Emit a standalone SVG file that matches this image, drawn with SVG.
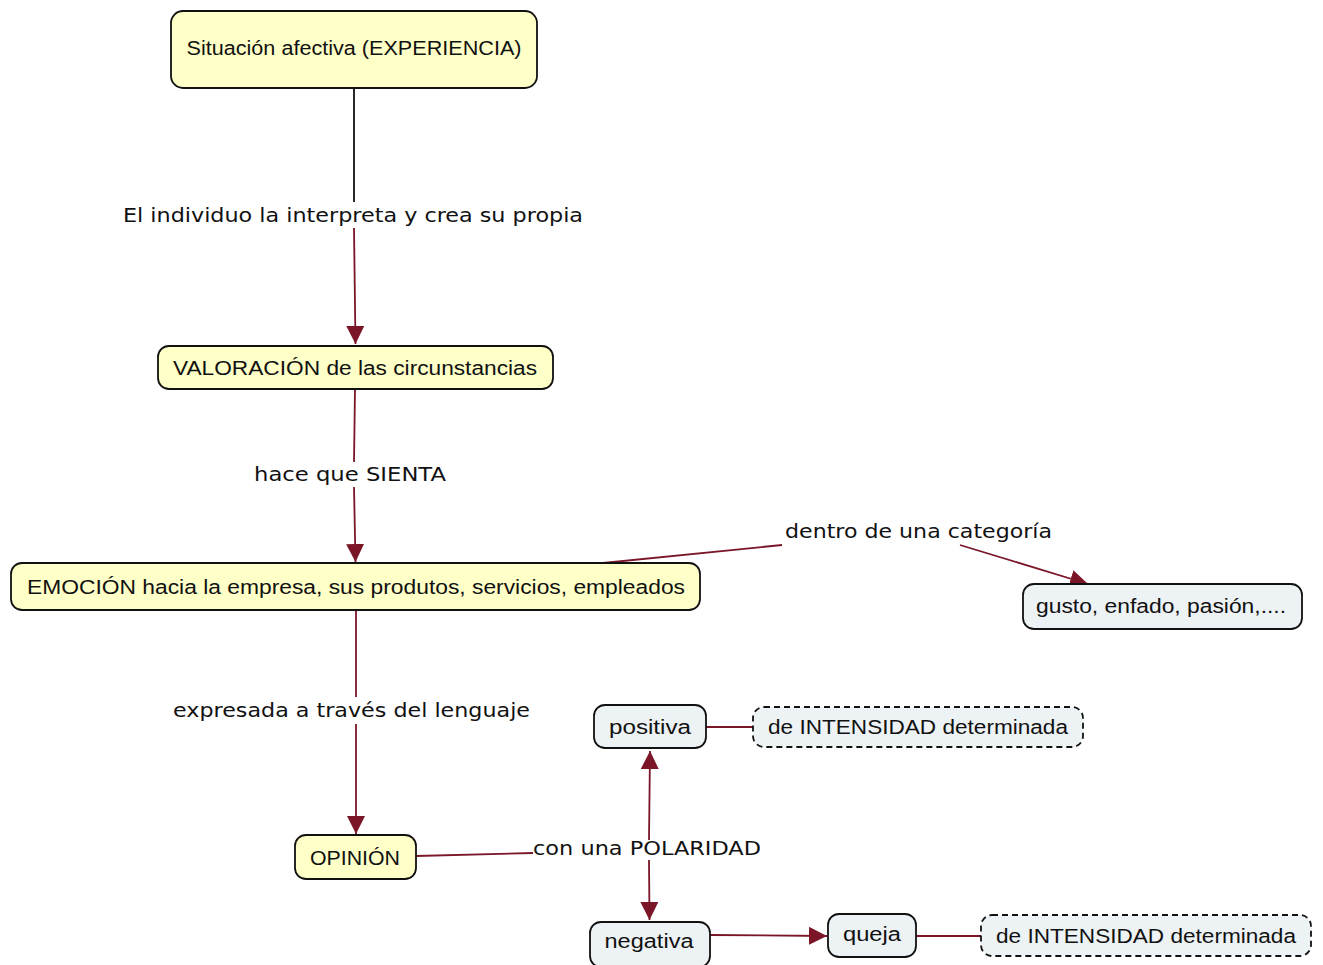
<svg xmlns="http://www.w3.org/2000/svg" width="1323" height="965" viewBox="0 0 1323 965">
<defs>
<marker id="arr" viewBox="0 0 10 10" refX="10" refY="5" markerWidth="18" markerHeight="18" markerUnits="userSpaceOnUse" orient="auto">
<path d="M0,0 L10,5 L0,10 z" fill="#7a1628"/>
</marker>
<style>
.ny{fill:#ffffc8;stroke:#111;stroke-width:1.8}
.nb{fill:#edf2f4;stroke:#111;stroke-width:1.8}
.nd{fill:#edf2f4;stroke:#111;stroke-width:1.8;stroke-dasharray:6 4}
.nt{font-family:"Liberation Sans",Arial,sans-serif;font-size:20px;fill:#111;text-anchor:middle;dominant-baseline:central}
.lt{font-family:"DejaVu Sans",Verdana,sans-serif;font-size:19px;fill:#111;dominant-baseline:central}
.c{stroke:#7a1628;stroke-width:1.8;fill:none}
.ca{stroke:#7a1628;stroke-width:1.8;fill:none;marker-end:url(#arr)}
</style>
</defs>
<rect width="1323" height="965" fill="#fff"/>
<g id="connectors">
<line x1="354" y1="88" x2="354" y2="202" stroke="#111" stroke-width="1.8"/>
<line class="ca" x1="354" y1="228" x2="355.5" y2="344"/>
<line class="c" x1="355" y1="389" x2="354" y2="462"/>
<line class="ca" x1="354" y1="487" x2="355.5" y2="562"/>
<line class="c" x1="603" y1="563" x2="782" y2="545"/>
<line class="ca" x1="960" y1="545" x2="1088" y2="584"/>
<line class="c" x1="356" y1="611" x2="356" y2="697"/>
<line class="ca" x1="356" y1="724" x2="356" y2="834"/>
<line class="c" x1="416" y1="856" x2="533" y2="853"/>
<line class="ca" x1="649" y1="840" x2="650" y2="751"/>
<line class="ca" x1="649" y1="860" x2="649.5" y2="920"/>
<line class="c" x1="706" y1="727" x2="753" y2="727"/>
<line class="ca" x1="710" y1="935" x2="827" y2="936"/>
<line class="c" x1="916" y1="936" x2="981" y2="936"/>
<text class="lt" x="123" y="215" textLength="460" lengthAdjust="spacingAndGlyphs">El individuo la interpreta y crea su propia</text>
<text class="lt" x="254" y="474" textLength="192" lengthAdjust="spacingAndGlyphs">hace que SIENTA</text>
<text class="lt" x="785" y="531" textLength="267" lengthAdjust="spacingAndGlyphs">dentro de una categoría</text>
<text class="lt" x="173" y="710" textLength="357" lengthAdjust="spacingAndGlyphs">expresada a través del lenguaje</text>
<text class="lt" x="533" y="848" textLength="228" lengthAdjust="spacingAndGlyphs">con una POLARIDAD</text>
</g>
<g id="n1"><rect class="ny" x="171" y="11" width="366" height="77" rx="12"/><text class="nt" x="354" y="48" textLength="335" lengthAdjust="spacingAndGlyphs">Situación afectiva (EXPERIENCIA)</text></g>
<g id="n2"><rect class="ny" x="158" y="346" width="395" height="43" rx="11"/><text class="nt" x="355" y="368" textLength="364" lengthAdjust="spacingAndGlyphs">VALORACIÓN de las circunstancias</text></g>
<g id="n3"><rect class="ny" x="11" y="563" width="689" height="47" rx="11"/><text class="nt" x="356" y="587" textLength="658" lengthAdjust="spacingAndGlyphs">EMOCIÓN hacia la empresa, sus produtos, servicios, empleados</text></g>
<g id="n4"><rect class="nb" x="1023" y="584" width="279" height="45" rx="11"/><text class="nt" x="1161" y="606" textLength="250" lengthAdjust="spacingAndGlyphs">gusto, enfado, pasión,....</text></g>
<g id="n5"><rect class="nb" x="594" y="705" width="112" height="43" rx="11"/><text class="nt" x="650" y="727" textLength="82" lengthAdjust="spacingAndGlyphs">positiva</text></g>
<g id="n6"><rect class="nd" x="753" y="707" width="330" height="40" rx="11"/><text class="nt" x="918" y="727" textLength="300" lengthAdjust="spacingAndGlyphs">de INTENSIDAD determinada</text></g>
<g id="n7"><rect class="ny" x="295" y="835" width="121" height="44" rx="11"/><text class="nt" x="355" y="858" textLength="90" lengthAdjust="spacingAndGlyphs">OPINIÓN</text></g>
<g id="n8"><rect class="nb" x="590" y="922" width="120" height="45" rx="11"/><text class="nt" x="649" y="941" textLength="89" lengthAdjust="spacingAndGlyphs">negativa</text></g>
<g id="n9"><rect class="nb" x="828" y="914" width="88" height="43" rx="11"/><text class="nt" x="872" y="934" textLength="58" lengthAdjust="spacingAndGlyphs">queja</text></g>
<g id="n10"><rect class="nd" x="981" y="915" width="330" height="41" rx="11"/><text class="nt" x="1146" y="936" textLength="300" lengthAdjust="spacingAndGlyphs">de INTENSIDAD determinada</text></g>
</svg>
